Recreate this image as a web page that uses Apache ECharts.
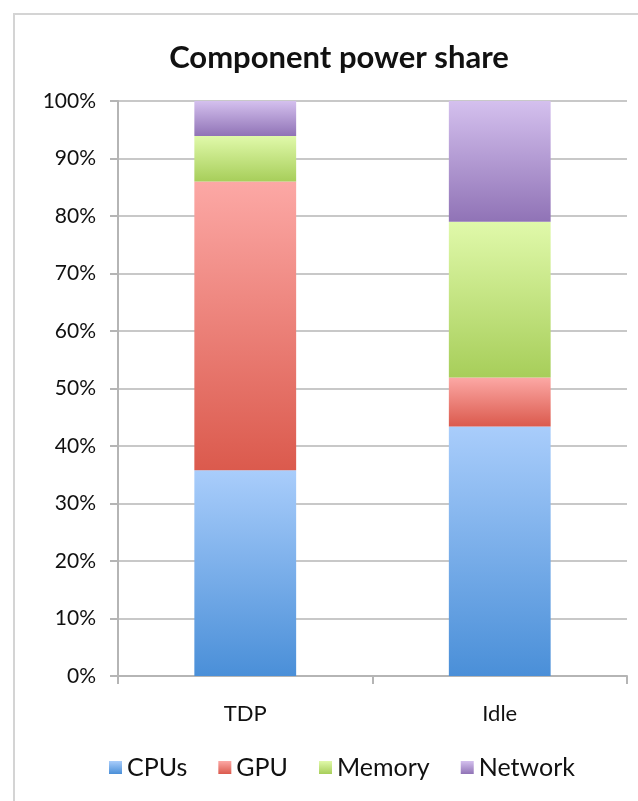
<!DOCTYPE html>
<html>
<head>
<meta charset="utf-8">
<style>
  html, body { margin: 0; padding: 0; background: #fff; }
  #frame { position: absolute; left: 13px; top: 13px; width: 640px; height: 800px; border: 2px solid #d4d4d4; box-sizing: border-box; }
  #chart { position: absolute; left: 0; top: 0; width: 638px; height: 801px; }
</style>
</head>
<body>
<div id="frame"></div>
<div id="chart"></div>
<script src="https://cdn.jsdelivr.net/npm/echarts@6/dist/echarts.min.js"></script>
<script>
    // data
    var categories = ['TDP', 'Idle'];
    var cpus = [35.8, 43.4];
    var gpu = [50.2, 8.5];
    var memory = [7.9, 27.1];
    var network = [6.1, 21.0];
    var yTicks = [0, 10, 20, 30, 40, 50, 60, 70, 80, 90, 100];

    var chart = echarts.init(document.getElementById('chart'));

    function grad(top, bottom) {
        return new echarts.graphic.LinearGradient(0, 0, 0, 1, [
            { offset: 0, color: top },
            { offset: 1, color: bottom }
        ]);
    }

    var fontFam = 'Lato, "Open Sans", sans-serif';
    var seriesDefs = [
        { name: 'CPUs', data: cpus, c: grad('#a9cdfb', '#4a8fd8') },
        { name: 'GPU', data: gpu, c: grad('#fca8a5', '#db5a4d') },
        { name: 'Memory', data: memory, c: grad('#e0f9aa', '#a7ce5a') },
        { name: 'Network', data: network, c: grad('#d4c0ee', '#9073b6') }
    ];

    var option = {
        animation: false,
        title: {
            text: 'Component power share',
            left: 334,
            textAlign: 'center',
            top: 37,
            textStyle: { fontFamily: fontFam, fontWeight: 'bold', fontSize: 31, color: '#111' }
        },
        legend: {
            data: ['CPUs', 'GPU', 'Memory', 'Network'],
            bottom: 16,
            left: 104,
            icon: 'rect',
            itemWidth: 13,
            itemHeight: 13,
            itemGap: 31,
            textStyle: { fontFamily: fontFam, fontSize: 25, color: '#111' }
        },
        grid: { left: 118, right: 11, top: 101, bottom: 125 },
        xAxis: {
            type: 'category',
            data: categories,
            axisLine: { lineStyle: { color: '#b5b5b5', width: 2 } },
            axisTick: { show: true, length: 8, lineStyle: { color: '#b5b5b5', width: 2 } },
            axisLabel: { fontFamily: fontFam, fontSize: 22, color: '#111', margin: 27 }
        },
        yAxis: {
            type: 'value',
            min: 0,
            max: 100,
            interval: 10,
            axisLine: { show: true, lineStyle: { color: '#b5b5b5', width: 2 } },
            axisTick: { show: true, length: 8, lineStyle: { color: '#b5b5b5', width: 2 } },
            splitLine: { lineStyle: { color: '#c8c8c8', width: 2 } },
            axisLabel: {
                fontFamily: fontFam, fontSize: 21, color: '#111', margin: 22,
                formatter: function (v) { return yTicks.indexOf(v) >= 0 ? v + '%' : ''; }
            }
        },
        series: seriesDefs.map(function (s) {
            return {
                name: s.name,
                type: 'bar',
                stack: 'total',
                barCategoryGap: '60%',
                data: s.data,
                itemStyle: { color: s.c }
            };
        })
    };

    chart.setOption(option);
</script>
</body>
</html>
